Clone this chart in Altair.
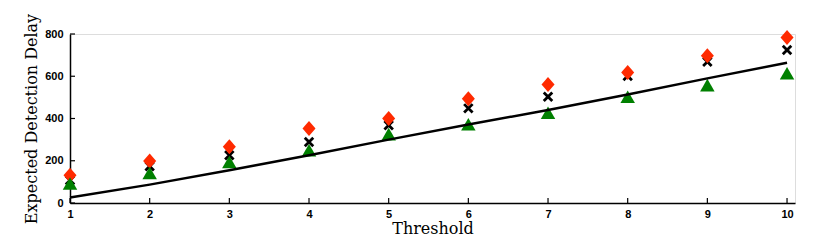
import altair as alt
import pandas as pd

threshold = [1, 2, 3, 4, 5, 6, 7, 8, 9, 10]
line_vals = [26, 87, 155, 226, 300, 372, 440, 514, 590, 664]
red_vals = [131, 199, 266, 353, 400, 493, 561, 618, 697, 784]
cross_vals = [108, 174, 226, 289, 368, 448, 503, 601, 669, 724]
green_vals = [92, 142, 194, 250, 326, 373, 427, 503, 558, 614]
x_ticks = [1, 2, 3, 4, 5, 6, 7, 8, 9, 10]
y_ticks = [0, 200, 400, 600, 800]

W, H = 725, 169

df = pd.DataFrame({"t": threshold, "line": line_vals, "red": red_vals,
                   "cross": cross_vals, "green": green_vals})

xs = alt.Scale(domain=[1, 10.1], nice=False, zero=False)
ys = alt.Scale(domain=[0, 800], nice=False)

xaxis = alt.Axis(values=x_ticks, format="d", ticks=False, grid=False, labelFont="Liberation Sans",
                 labelFontWeight="bold", labelFontSize=11, labelColor="black",
                 labelPadding=5, domainColor="black", domainWidth=1.5,
                 title="Threshold", titleFont="DejaVu Serif", titleFontWeight="normal",
                 titleFontSize=16, titleColor="black", titlePadding=1, labelFlush=False)
yaxis = alt.Axis(values=y_ticks, format="d", ticks=False, grid=False, labelFont="Liberation Sans",
                 labelFontWeight="bold", labelFontSize=11, labelColor="black",
                 labelPadding=7, domainColor="black", domainWidth=1.5,
                 title="Expected Detection Delay", titleFont="DejaVu Serif",
                 titleFontWeight="normal", titleFontSize=16, titleColor="black",
                 titlePadding=5, labelFlush=False)

base = alt.Chart(df)

cross = base.mark_point(shape="M-1,-1L1,1M1,-1L-1,1", filled=False, color="black",
                        strokeWidth=2.8, size=72, opacity=1).encode(
    x=alt.X("t:Q", scale=xs, axis=xaxis),
    y=alt.Y("cross:Q", scale=ys, axis=yaxis))

red = base.mark_point(shape="M0,-1.15L1,0L0,1.15L-1,0Z", filled=True, color="#FF2A00",
                      size=170, opacity=1).encode(
    x=alt.X("t:Q", scale=xs), y=alt.Y("red:Q", scale=ys))

green = base.mark_point(shape="triangle-up", filled=True, color="#008000",
                        size=210, opacity=1).encode(
    x=alt.X("t:Q", scale=xs), y=alt.Y("green:Q", scale=ys))

line = base.mark_line(color="black", strokeWidth=2.5).encode(
    x=alt.X("t:Q", scale=xs), y=alt.Y("line:Q", scale=ys))

xt = alt.Chart(pd.DataFrame({"v": x_ticks})).mark_rule(color="black", strokeWidth=1.2).encode(
    x=alt.X("v:Q", scale=xs), y=alt.value(H), y2=alt.value(H - 5))
yt = alt.Chart(pd.DataFrame({"v": y_ticks})).mark_rule(color="black", strokeWidth=1.2).encode(
    y=alt.Y("v:Q", scale=ys), x=alt.value(0), x2=alt.value(5))

chart = alt.layer(cross, red, green, line, xt, yt).properties(
    width=W, height=H,
    autosize=alt.AutoSizeParams(type="none"),
    padding={"left": 62, "top": 26, "right": 20, "bottom": 40},
).configure_view(stroke=None).configure(background="white")

chart.save("out.html", embed_options={"renderer": "svg", "actions": False})
